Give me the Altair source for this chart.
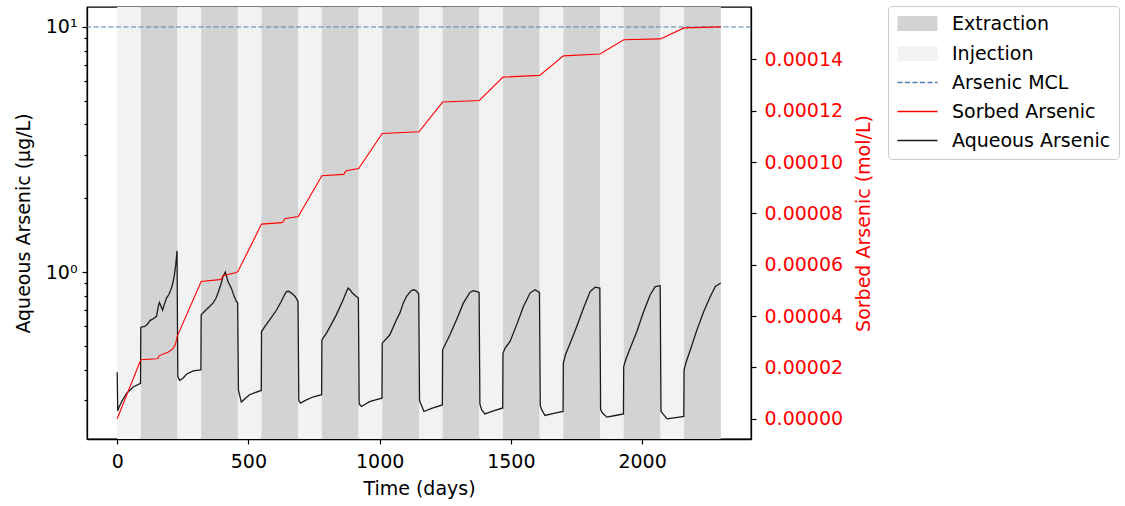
import altair as alt
import pandas as pd

FONT = "DejaVu Sans"

# ---------------- data ----------------
phase_names = ["Injection", "Extraction"] * 10
phase_start = [0, 90, 230, 320, 460, 550, 690, 780, 920, 1010,
               1150, 1240, 1380, 1470, 1610, 1700, 1840, 1930, 2070, 2160]
phase_end = [90, 230, 320, 460, 550, 690, 780, 920, 1010, 1150,
             1240, 1380, 1470, 1610, 1700, 1840, 1930, 2070, 2160, 2300]

aq_days = [
    0, 2, 8, 20, 36, 61, 89,
    90, 105, 115, 125, 140, 150, 156, 161, 167, 173, 180, 188, 197, 205, 212, 218, 223, 228,
    231, 238, 250, 265, 290, 319,
    320, 339, 353, 365, 376, 384, 395, 403, 410, 412, 416, 422, 428, 435, 445, 454, 459,
    462, 473, 488, 504, 528, 549,
    550, 563, 581, 606, 625, 638, 645, 653, 664, 678, 689,
    692, 698, 721, 748, 779,
    780, 798, 810, 835, 861, 873, 880, 888, 896, 908, 919,
    922, 931, 962, 988, 1009,
    1010, 1039, 1064, 1077, 1090, 1102, 1118, 1128, 1138, 1149,
    1152, 1156, 1169, 1198, 1239,
    1240, 1268, 1293, 1319, 1344, 1357, 1368, 1379,
    1382, 1389, 1401, 1428, 1469,
    1470, 1478, 1497, 1522, 1548, 1573, 1592, 1609,
    1612, 1618, 1630, 1663, 1699,
    1700, 1708, 1726, 1751, 1777, 1802, 1821, 1839,
    1842, 1849, 1866, 1898, 1929,
    1930, 1938, 1955, 1980, 2006, 2031, 2050, 2069,
    2072, 2082, 2095, 2128, 2159,
    2160, 2168, 2184, 2209, 2235, 2260, 2279, 2300,
]
aq_vals = [
    0.39, 0.272, 0.283, 0.300, 0.320, 0.340, 0.352,
    0.596, 0.600, 0.612, 0.634, 0.648, 0.660, 0.720, 0.752, 0.725, 0.700, 0.740, 0.783, 0.810, 0.850, 0.900, 0.975, 1.07, 1.22,
    0.375, 0.362, 0.368, 0.384, 0.395, 0.399,
    0.669, 0.702, 0.725, 0.747, 0.780, 0.821, 0.890, 0.959, 0.990, 1.0, 0.97, 0.915, 0.89, 0.86, 0.80, 0.759, 0.750,
    0.330, 0.295, 0.305, 0.316, 0.323, 0.329,
    0.572, 0.600, 0.639, 0.697, 0.759, 0.810, 0.833, 0.835, 0.821, 0.795, 0.760,
    0.300, 0.292, 0.301, 0.310, 0.316,
    0.529, 0.565, 0.596, 0.669, 0.771, 0.830, 0.860, 0.845, 0.821, 0.800, 0.783,
    0.290, 0.283, 0.296, 0.302, 0.306,
    0.513, 0.555, 0.639, 0.680, 0.747, 0.795, 0.835, 0.847, 0.840, 0.815,
    0.300, 0.292, 0.270, 0.278, 0.287,
    0.482, 0.555, 0.639, 0.747, 0.826, 0.839, 0.835, 0.826,
    0.290, 0.274, 0.264, 0.270, 0.279,
    0.466, 0.490, 0.521, 0.609, 0.724, 0.821, 0.847, 0.826,
    0.285, 0.274, 0.260, 0.265, 0.270,
    0.425, 0.460, 0.513, 0.600, 0.713, 0.833, 0.868, 0.860,
    0.275, 0.266, 0.256, 0.260, 0.264,
    0.412, 0.440, 0.490, 0.572, 0.690, 0.808, 0.873, 0.880,
    0.270, 0.262, 0.252, 0.255, 0.258,
    0.399, 0.430, 0.482, 0.581, 0.690, 0.795, 0.873, 0.902,
]

sorb_days = [0, 90, 150, 156, 159, 195, 212, 222, 229, 320, 390, 398, 403, 454, 460,
             550, 627, 633, 638, 690, 780, 863, 868, 873, 920, 1010, 1150, 1240, 1380,
             1470, 1610, 1700, 1840, 1930, 2070, 2160, 2300]
sorb_vals = [0.0, 2.30e-5, 2.34e-5, 2.36e-5, 2.45e-5, 2.60e-5, 2.72e-5, 2.90e-5, 3.22e-5,
             5.35e-5, 5.42e-5, 5.45e-5, 5.57e-5, 5.70e-5, 5.74e-5,
             7.585e-5, 7.64e-5, 7.68e-5, 7.79e-5, 7.88e-5, 9.47e-5, 9.52e-5, 9.60e-5, 9.66e-5, 9.75e-5,
             1.1116e-4, 1.118e-4, 1.234e-4, 1.240e-4, 1.331e-4, 1.338e-4, 1.414e-4, 1.421e-4,
             1.477e-4, 1.480e-4, 1.523e-4, 1.527e-4]

mcl_value = [10.0]

legend_order = ["Extraction", "Injection", "Arsenic MCL", "Sorbed Arsenic", "Aqueous Arsenic"]
legend_colors = ["#d3d3d3", "#f2f2f2", "#4f81b0", "#ff0000", "#1a1a1a"]

x_ticks = [0, 500, 1000, 1500, 2000]
left_ticks = [0.3, 0.4, 0.5, 0.6, 0.7, 0.8, 0.9, 1, 2, 3, 4, 5, 6, 7, 8, 9, 10]
right_ticks = [0.0, 0.00002, 0.00004, 0.00006, 0.00008, 0.0001, 0.00012, 0.00014]

bands_df = pd.DataFrame({"start": phase_start, "end": phase_end, "series": phase_names})
aq_df = pd.DataFrame({"day": aq_days, "value": aq_vals, "series": "Aqueous Arsenic"})
sorb_df = pd.DataFrame({"day": sorb_days, "value": sorb_vals, "series": "Sorbed Arsenic"})
mcl_df = pd.DataFrame({"value": mcl_value, "series": ["Arsenic MCL"]})

# ---------------- scales / axes ----------------
x_scale = alt.Scale(domain=[-115, 2415], nice=False, zero=False)
x_axis = alt.Axis(values=x_ticks, title="Time (days)", labelPadding=8, titlePadding=8,
                  labelFlush=False, format="d")

left_scale = alt.Scale(type="log", domain=[0.2085, 12.06], nice=False)
left_axis = alt.Axis(
    values=left_ticks,
    labelExpr="datum.value == 1 ? '10⁰' : (datum.value == 10 ? '10¹' : '')",
    tickSize={"condition": {"test": "datum.value == 1 || datum.value == 10", "value": 5}, "value": 3},
    labelOverlap=False, labelFlush=False, labelPadding=5,
    title="Aqueous Arsenic (µg/L)", titlePadding=12,
)

right_scale = alt.Scale(domain=[-7.9e-6, 1.6044e-4], nice=False, zero=False)
right_axis = alt.Axis(
    orient="right", values=right_ticks, format=".5f", labelColor="#ff0000",
    titleColor="#ff0000", title="Sorbed Arsenic (mol/L)", labelPadding=8,
    titleAngle=270, titleBaseline="top", titlePadding=12, labelFlush=False, labelOverlap=False,
)

color_expr = ("datum.value == 'Extraction' ? '#d3d3d3' : (datum.value == 'Injection' ? '#f2f2f2' : "
              "(datum.value == 'Arsenic MCL' ? '#4f81b0' : (datum.value == 'Sorbed Arsenic' ? '#ff0000' : '#333333')))")
patch_expr = "(datum.value == 'Extraction' || datum.value == 'Injection')"
legend = alt.Legend(
    title=None, orient="none", legendX=801, legendY=-1,
    fillColor="white", strokeColor="#cccccc", cornerRadius=4, padding=8,
    labelFont=FONT, labelFontSize=19, labelColor="black", labelOffset=25,
    symbolSize=196, symbolOffset=12, rowPadding=9, symbolStrokeWidth=1.5,
    symbolOpacity=1,
    symbolType=alt.ExprRef(expr=patch_expr + " ? 'M-2.75,-0.95H2.75V0.95H-2.75Z' : 'M-2.86,0H2.86'"),
    symbolFillColor=alt.ExprRef(expr=color_expr),
    symbolStrokeColor=alt.ExprRef(expr=color_expr),
    symbolDash=alt.ExprRef(expr="datum.value == 'Arsenic MCL' ? [5, 2.5] : [1, 0]"),
)
color = alt.Color("series:N", scale=alt.Scale(domain=legend_order, range=legend_colors), legend=legend)

# ---------------- layers ----------------
bands = alt.Chart(bands_df).mark_rect(opacity=1, strokeWidth=0).encode(
    x=alt.X("start:Q", scale=x_scale, axis=x_axis),
    x2="end:Q",
    color=color,
)

mcl = alt.Chart(mcl_df).mark_rule(strokeDash=[5, 2.5], strokeWidth=1).encode(
    y=alt.Y("value:Q", scale=left_scale, axis=left_axis),
    color=color,
)

aq = alt.Chart(aq_df).mark_line(strokeWidth=1.3).encode(
    x=alt.X("day:Q", scale=x_scale, axis=x_axis),
    y=alt.Y("value:Q", scale=left_scale, axis=left_axis),
    color=color,
    order="day:Q",
)

sorb = alt.Chart(sorb_df).mark_line(strokeWidth=1.1).encode(
    x=alt.X("day:Q", scale=x_scale, axis=x_axis),
    y=alt.Y("value:Q", scale=right_scale, axis=right_axis),
    color=color,
    order="day:Q",
)

left = alt.layer(bands, mcl, aq)
chart = (
    alt.layer(left, sorb)
    .resolve_scale(y="independent")
    .properties(
        width=664, height=432,
        padding={"left": 87, "top": 7, "right": 374, "bottom": 67},
        autosize=alt.AutoSizeParams(type="none"),
        background="white",
    )
    .configure_view(stroke="black", strokeWidth=1.3)
    .configure_axis(
        labelFont=FONT, titleFont=FONT, labelFontSize=19, titleFontSize=19,
        titleFontWeight="normal", labelColor="black", titleColor="black",
        domainColor="black", domainWidth=1.3, tickColor="black", tickWidth=1.2,
        tickSize=5, grid=False,
    )
)

chart.save("out.html", embed_options={"renderer": "svg", "actions": False})
